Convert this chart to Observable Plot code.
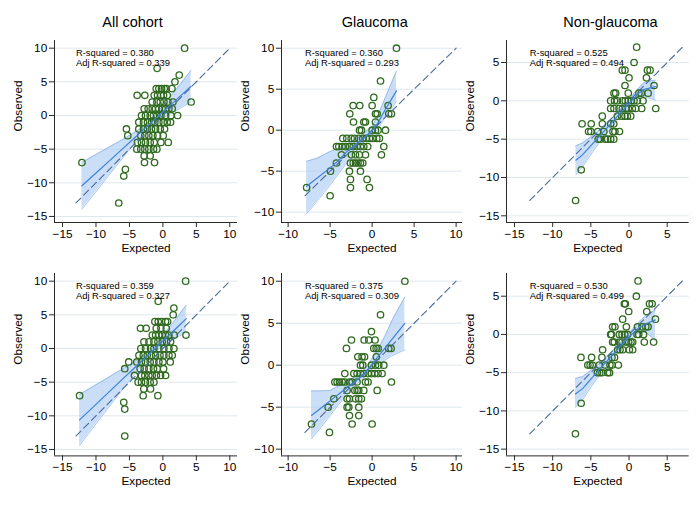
<!DOCTYPE html>
<html>
<head>
<meta charset="utf-8">
<script src="https://cdn.jsdelivr.net/npm/d3@7"></script>
<script src="https://cdn.jsdelivr.net/npm/@observablehq/plot@0.6"></script>
<style>
  body { margin: 0; background: #fff; font-family: "Liberation Sans", Arial, Helvetica, sans-serif; }
  #fig { position: relative; width: 700px; height: 510px; overflow: hidden; background: #fff; }
  #fig svg { position: absolute; }
  #fig .title { position: absolute; width: 200px; text-align: center; font-size: 14.5px; line-height: 16px; color: #000; }
</style>
</head>
<body>
<div id="fig"></div>
<script>
// Column titles
const titles = ["All cohort", "Glaucoma", "Non-glaucoma"];

// Tick values
const ticksAllX = [-15, -10, -5, 0, 5, 10];
const ticksAllY = [-15, -10, -5, 0, 5, 10];
const ticksGlaucX = [-10, -5, 0, 5, 10];
const ticksGlaucY = [-10, -5, 0, 5, 10];
const ticksNonX = [-15, -10, -5, 0, 5];
const ticksNonY = [-15, -10, -5, 0, 5];

// Fit statistics [R-squared, adjusted R-squared], top row then bottom row
const statsTop = [["0.380", "0.339"], ["0.360", "0.293"], ["0.525", "0.494"]];
const statsBottom = [["0.359", "0.327"], ["0.375", "0.309"], ["0.530", "0.499"]];

// Line of equality ranges (observed = expected)
const equalityAll = [-13, 10];
const equalityGlauc = [-8, 10];
const equalityNon = [-13, 7];

// Observations [expected, observed] — top row
const allTop = [
  [3.24,10],[-0.86,7],[2.44,6],[1.8,5],
  [-1.0,4],[-0.6,4],[-0.2,4],[0.2,4],[0.5,4],[1.35,4],
  [-3.85,3],[-2.7,3],[-1.3,3],[-0.8,3],[-0.3,3],[0.1,3],[0.65,3],
  [-1.6,2],[-0.9,2],[-0.4,2],[0.15,2],[0.75,2],[1.5,2],[4.22,2],
  [-2.8,1],[-2.2,1],[-1.6,1],[-1.1,1],[-0.6,1],[-0.1,1],[0.4,1],[0.9,1],[1.4,1],
  [-3.2,0],[-2.6,0],[-1.9,0],[-1.4,0],[-0.9,0],[-0.3,0],[0.4,0],[1.2,0],[2.2,0],
  [-3.6,-1],[-2.9,-1],[-2.3,-1],[-1.7,-1],[-1.2,-1],[-0.6,-1],[0.05,-1],[0.65,-1],[1.15,-1],
  [-5.45,-2],[-3.6,-2],[-2.9,-2],[-2.3,-2],[-1.7,-2],[-1.1,-2],[-0.4,-2],[0.25,-2],
  [-5.25,-3],[-3.3,-3],[-2.7,-3],[-2.1,-3],[-1.5,-3],[-0.8,-3],[0.05,-3],
  [-3.8,-4],[-3.2,-4],[-2.6,-4],[-1.9,-4],[-1.3,-4],[-0.3,-4],[0.8,-4],
  [-3.9,-5],[-3.3,-5],[-2.7,-5],[-2.1,-5],[-1.4,-5],[-0.9,-5],
  [-2.8,-6],[-1.9,-6],
  [-12.1,-7],[-2.75,-7],[-1.25,-7],
  [-5.6,-8],[-5.85,-9],[-6.6,-13]
];
const glaucTop = [
  [2.9,10],[1.0,6],[0.2,4],
  [-2.26,3],[-1.47,3],[0,3],[1.9,3],
  [-2.66,2],[0.4,2],[0.6,2],[1.98,2],[2.3,2],
  [-2.22,1],[-0.99,1],[-0.79,1],[0.4,1],
  [-1.5,0],[-1.27,0],[0,0],[0.4,0],[0.71,0],[1.59,0],
  [-3.49,-1],[-3.02,-1],[-2.5,-1],[-2.1,-1],[-1.59,-1],[-1.11,-1],[-0.71,-1],[-0.32,-1],[0.08,-1],[0.56,-1],[0.87,-1],
  [-4.25,-2],[-3.97,-2],[-3.57,-2],[-3.17,-2],[-2.7,-2],[-2.26,-2],[-1.79,-2],[-1.39,-2],[-0.99,-2],[-0.52,-2],[1.39,-2],
  [-3.65,-3],[-2.46,-3],[-1.98,-3],[-1.51,-3],[-0.79,-3],[1.11,-3],
  [-4.25,-4],[-2.58,-4],[-2.26,-4],[-1.98,-4],[-1.67,-4],[-1.39,-4],[-1.11,-4],
  [-4.96,-5],[-2.7,-5],[-1.39,-5],
  [-2.58,-6],[-0.6,-6],
  [-7.8,-7],[-2.58,-7],[-0.32,-7],
  [-5.0,-8]
];
const nonTop = [
  [1.0,7],[0.66,5],
  [-0.88,4],[-0.53,4],[2.41,4],[2.76,4],
  [0.0,3],[2.28,3],
  [-0.53,2],[3.28,2],
  [-1.97,1],[-1.75,1],[-0.1,1],[1.3,1],[1.6,1],[2.5,1],
  [-2.41,0],[-1.9,0],[-1.53,0],[-0.88,0],[-0.5,0],[-0.1,0],[0.3,0],[0.66,0],[1.09,0],[1.84,0],
  [-2.41,-1],[-1.97,-1],[-1.31,-1],[-0.88,-1],[-0.44,-1],[-0.09,-1],[0.44,-1],[0.88,-1],[1.66,-1],[3.5,-1],
  [-3.5,-2],[-1.53,-2],[-0.96,-2],[-0.53,-2],[-0.22,-2],[0.22,-2],
  [-6.15,-3],[-4.95,-3],[-3.5,-3],[-2.4,-3],[-2.0,-3],
  [-5.3,-4],[-5.0,-4],[-4.1,-4],[-3.3,-4],[-2.1,-4],[-1.85,-4],[-1.25,-4],
  [-4.03,-5],[-3.76,-5],[-3.1,-5],[-2.8,-5],[-2.4,-5],[-2.0,-5],
  [-6.26,-9],[-7.0,-13]
];

// Observations [expected, observed] — bottom row
const allBottom = [
  [3.4,10],[-0.7,7],[1.64,6],[1.54,5],
  [-1.2,4],[-0.7,4],[-0.2,4],[0.4,4],[0.7,4],
  [-3.35,3],[-2.5,3],[-1.0,3],[-0.3,3],[0.5,3],
  [-1.58,2],[-1.09,2],[-0.6,2],[-0.1,2],[0.4,2],[0.9,2],[1.7,2],[3.45,2],
  [-2.83,1],[-2.08,1],[-1.34,1],[-0.75,1],[-0.1,1],[0.55,1],[1.15,1],
  [-3.3,0],[-2.6,0],[-1.84,0],[-1.34,0],[-0.6,0],[0.15,0],[0.9,0],[1.65,0],
  [-3.58,-1],[-2.93,-1],[-2.34,-1],[-1.74,-1],[-1.09,-1],[-0.43,-1],[0.15,-1],[0.9,-1],[1.4,-1],
  [-5.1,-2],[-3.9,-2],[-3.2,-2],[-2.6,-2],[-1.9,-2],[-1.34,-2],[-0.6,-2],[0.0,-2],[1.1,-2],
  [-5.7,-3],[-3.4,-3],[-2.8,-3],[-2.1,-3],[-1.4,-3],[-0.84,-3],[0.1,-3],
  [-4.25,-4],[-3.2,-4],[-2.7,-4],[-2.1,-4],[-1.6,-4],[-0.97,-4],[-0.34,-4],[0.4,-4],
  [-3.7,-5],[-3.2,-5],[-2.6,-5],[-1.9,-5],[-1.34,-5],
  [-2.85,-6],[-1.85,-6],
  [-12.45,-7],[-2.95,-7],[-0.75,-7],
  [-5.85,-8],[-5.7,-9],[-5.7,-13]
];
const glaucBottom = [
  [3.9,10],[1.0,6],[-0.08,4],
  [-2.46,3],[-0.95,3],[-0.4,3],[0.35,3],
  [-3.06,2],[0.2,2],[0.48,2],[0.71,2],[1.98,2],[2.26,2],
  [-1.7,1],[-1.2,1],[-0.9,1],[0.5,1],
  [-1.39,0],[-1.11,0],[-0.08,0],[0.4,0],[0.79,0],[1.39,0],
  [-3.25,-1],[-2.18,-1],[-1.79,-1],[-1.39,-1],[-0.99,-1],[-0.48,-1],[-0.08,-1],[0.32,-1],[0.71,-1],[1.19,-1],
  [-4.44,-2],[-4.17,-2],[-3.89,-2],[-3.57,-2],[-3.25,-2],[-2.7,-2],[-2.38,-2],[-1.79,-2],[-0.79,-2],[-0.48,-2],[2.3,-2],
  [-2.98,-3],[-2.06,-3],[-1.79,-3],[-1.59,-3],[-0.99,-3],[0.6,-3],
  [-4.56,-4],[-2.98,-4],[-2.7,-4],[-1.98,-4],[-1.59,-4],[-1.27,-4],
  [-5.24,-5],[-2.98,-5],[-2.78,-5],[-1.59,-5],
  [-2.7,-6],[-1.59,-6],
  [-7.22,-7],[-2.38,-7],[0.0,-7],
  [-5.08,-8]
];
const nonBottom = [
  [1.18,7],[0.96,5],
  [-0.61,4],[-0.48,4],[2.68,4],[3.03,4],
  [-0.04,3],[2.32,3],
  [-0.83,2],[3.46,2],
  [-2.15,1],[-1.84,1],[-0.35,1],[1.1,1],[1.71,1],[2.2,1],[2.5,1],
  [-2.4,0],[-2.3,0],[-1.27,0],[-0.92,0],[-0.57,0],[-0.2,0],[1.05,0],[1.27,0],[1.9,0],
  [-2.15,-1],[-1.93,-1],[-1.27,-1],[-0.92,-1],[-0.39,-1],[-0.04,-1],[0.26,-1],[0.48,-1],[2.0,-1],[3.22,-1],
  [-3.46,-2],[-1.49,-2],[-1.18,-2],[-0.83,-2],[0.04,-2],[0.48,-2],
  [-6.3,-3],[-4.9,-3],[-3.55,-3],[-2.24,-3],[-1.9,-3],
  [-5.4,-4],[-5.1,-4],[-4.8,-4],[-3.9,-4],[-3.1,-4],[-2.5,-4],[-2.2,-4],[-1.4,-4],
  [-4.15,-5],[-3.84,-5],[-3.55,-5],[-2.8,-5],[-2.55,-5],
  [-6.27,-9],[-7.02,-13]
];

// Fitted values with 95% confidence limits [expected, fitted, lower, upper]
const fitAllTop = [
  [-12.1,-10.45,-13.92,-6.98],[-10,-8.55,-11.31,-5.79],[-8,-6.74,-8.8,-4.68],[-6,-4.92,-6.29,-3.55],
  [-4.5,-3.56,-4.44,-2.68],[-3.3,-2.47,-3.01,-1.93],[-2.3,-1.57,-1.97,-1.17],[-1.3,-0.66,-1.2,-0.12],
  [0,0.52,-0.39,1.43],[1.5,1.88,0.48,3.28],[3,3.24,1.32,5.16],[4.22,4.35,2.01,6.69]
];
const fitGlaucTop = [
  [-7.8,-6.85,-10.2,-3.8],[-6.5,-5.8,-8.6,-3.4],[-5,-4.6,-6.7,-2.6],[-4,-3.7,-5.3,-2.2],
  [-3,-2.6,-4.0,-1.7],[-2,-1.75,-2.6,-1.1],[-1,-0.95,-1.45,-0.4],[0,-0.1,-0.6,0.45],
  [0.7,0.9,0.2,1.8],[1.5,2.4,1.5,3.8],[2.2,3.6,2.5,5.5],[2.9,4.8,3.54,7.2]
];
const fitNonTop = [
  [-6.96,-7.74,-9.65,-5.87],[-6.1,-7.05,-8.6,-5.5],[-5,-5.85,-7.0,-4.7],[-4,-4.75,-5.6,-3.9],
  [-3,-3.65,-4.3,-3.0],[-2,-2.55,-3.1,-2.0],[-1,-1.45,-1.95,-0.95],[0,-0.35,-0.85,0.15],
  [1.1,0.85,0.25,1.5],[2.0,1.5,0.5,2.4],[2.8,1.7,0.3,2.6],[3.46,1.85,0.1,2.7]
];
const fitAllBottom = [
  [-12.45,-10.6,-14.38,-6.82],[-10,-8.29,-11.19,-5.39],[-8,-6.41,-8.61,-4.21],[-6,-4.52,-6.02,-3.02],
  [-4.5,-3.11,-4.11,-2.11],[-3.2,-1.89,-2.5,-1.28],[-1.9,-0.66,-1.06,-0.26],[-0.8,0.37,-0.19,0.93],
  [0.5,1.6,0.66,2.54],[2,3.01,1.57,4.45],[3.5,4.43,2.43,6.43]
];
const fitGlaucBottom = [
  [-7.22,-5.98,-8.76,-3.07],[-6,-5.03,-7.3,-3.05],[-5,-4.25,-6.0,-3.0],[-4,-3.46,-4.7,-2.5],
  [-3,-2.68,-3.5,-1.9],[-2,-1.9,-2.4,-1.35],[-1,-1.1,-1.5,-0.6],[0,0.13,-0.45,0.8],
  [0.63,0.92,0.1,1.8],[1.5,2.0,0.6,3.4],[2.5,3.26,1.2,5.6],[3.89,4.98,1.83,8.09]
];
const fitNonBottom = [
  [-7.02,-7.8,-9.54,-5.75],[-6.05,-7.05,-8.5,-5.5],[-5,-5.85,-6.9,-4.7],[-4,-4.7,-5.5,-3.9],
  [-3,-3.6,-4.2,-3.0],[-2,-2.5,-3.0,-1.95],[-1,-1.4,-1.85,-0.9],[0,-0.3,-0.8,0.2],
  [1.2,0.8,0.2,1.5],[2.2,1.4,0.3,2.5],[3.46,1.9,-0.83,3.18]
];

// Panel layout: plot frame in page pixels [left, right, top, bottom] and axis domains
const panels = [
  {pts: allTop,     fit: fitAllTop,     eq: equalityAll,   st: statsTop[0],    xt: ticksAllX,   yt: ticksAllY,   frame: [54, 237, 40, 222],      xd: [-16.2, 11.15],  yd: [-15.9, 11.14]},
  {pts: glaucTop,   fit: fitGlaucTop,   eq: equalityGlauc, st: statsTop[1],    xt: ticksGlaucX, yt: ticksGlaucY, frame: [280.7, 461.7, 40, 222], xd: [-10.79, 10.76], yd: [-11.26, 10.94]},
  {pts: nonTop,     fit: fitNonTop,     eq: equalityNon,   st: statsTop[2],    xt: ticksNonX,   yt: ticksNonY,   frame: [506, 688.7, 40, 222],   xd: [-16.05, 7.88],  yd: [-15.87, 7.87]},
  {pts: allBottom,  fit: fitAllBottom,  eq: equalityAll,   st: statsBottom[0], xt: ticksAllX,   yt: ticksAllY,   frame: [54, 237, 273.3, 455.7],      xd: [-16.2, 11.15],  yd: [-15.95, 11.14]},
  {pts: glaucBottom,fit: fitGlaucBottom,eq: equalityGlauc, st: statsBottom[1], xt: ticksGlaucX, yt: ticksGlaucY, frame: [280.7, 461.7, 273.3, 455.7], xd: [-10.79, 10.76], yd: [-10.8, 10.92]},
  {pts: nonBottom,  fit: fitNonBottom,  eq: equalityNon,   st: statsBottom[2], xt: ticksNonX,   yt: ticksNonY,   frame: [506, 688.7, 273.3, 455.7],   xd: [-16.05, 7.88],  yd: [-15.88, 7.97]}
];
const titleCenters = [132.5, 374.7, 610.5];

const fig = document.getElementById("fig");
const fontStack = '"Liberation Sans", Arial, Helvetica, sans-serif';
const axisColor = "#2a2a2a";
const textColor = "#000";

function drawPanel(p) {
  const mL = 52, mR = 14, mT = 14, mB = 42;
  const [x0, x1, y0, y1] = p.frame;
  const fitRows = p.fit.map(([x, y, lo, hi]) => ({x, y, lo, hi}));
  const eqRows = p.eq.map(v => ({x: v, y: v}));
  const svg = Plot.plot({
    width: x1 - x0 + mL + mR,
    height: y1 - y0 + mT + mB,
    marginLeft: mL, marginRight: mR, marginTop: mT, marginBottom: mB,
    style: {fontFamily: fontStack, fontSize: "11.8px", color: textColor, background: "none", overflow: "visible"},
    x: {domain: p.xd, label: null},
    y: {domain: p.yd, label: null},
    marks: [
      Plot.gridY(p.yt, {stroke: "#dfe7ee", strokeOpacity: 1, strokeWidth: 1}),
      // confidence band
      Plot.areaY(fitRows, {x: "x", y1: "lo", y2: "hi", fill: "#a7c8f2", fillOpacity: 0.6}),
      Plot.line(fitRows, {x: "x", y: "lo", stroke: "#8db5ea", strokeWidth: 0.8}),
      Plot.line(fitRows, {x: "x", y: "hi", stroke: "#8db5ea", strokeWidth: 0.8}),
      // observations
      Plot.dot(p.pts, {x: d => d[0], y: d => d[1], r: 3.2, stroke: "#2f6a1f", strokeWidth: 1.3, fill: "none"}),
      // line of equality and fitted line
      Plot.line(eqRows, {x: "x", y: "y", stroke: "#4a6c9b", strokeWidth: 1.1, strokeDasharray: "7,4"}),
      Plot.line(fitRows, {x: "x", y: "y", stroke: "#3f82d9", strokeWidth: 1.2}),
      // axes
      Plot.ruleX([p.xd[0]], {stroke: axisColor, strokeWidth: 1}),
      Plot.ruleY([p.yd[0]], {stroke: axisColor, strokeWidth: 1}),
      Plot.axisX(p.xt, {tickSize: 5, tickPadding: 2, stroke: axisColor, label: null}),
      Plot.axisY(p.yt, {tickSize: 5, tickPadding: 2.3, stroke: axisColor, label: null}),
      // fit statistics
      Plot.text([`R-squared = ${p.st[0]}`], {text: d => d, x: p.eq[0], frameAnchor: "top", dy: 12.3, textAnchor: "start", lineAnchor: "middle", fontSize: 9.4, fill: textColor}),
      Plot.text([`Adj R-squared = ${p.st[1]}`], {text: d => d, x: p.eq[0], frameAnchor: "top", dy: 22, textAnchor: "start", lineAnchor: "middle", fontSize: 9.4, fill: textColor}),
      // axis titles
      Plot.text(["Expected"], {text: d => d, frameAnchor: "bottom", dy: 25.7, lineAnchor: "middle", fill: textColor}),
      Plot.text(["Observed"], {text: d => d, frameAnchor: "left", dx: -36, rotate: -90, lineAnchor: "middle", fill: textColor})
    ]
  });
  svg.style.left = (x0 - mL) + "px";
  svg.style.top = (y0 - mT) + "px";
  fig.appendChild(svg);
}

panels.forEach(drawPanel);

titles.forEach((t, i) => {
  const d = document.createElement("div");
  d.className = "title";
  d.textContent = t;
  d.style.left = (titleCenters[i] - 100) + "px";
  d.style.top = (22 - 8) + "px";
  fig.appendChild(d);
});
</script>
</body>
</html>
